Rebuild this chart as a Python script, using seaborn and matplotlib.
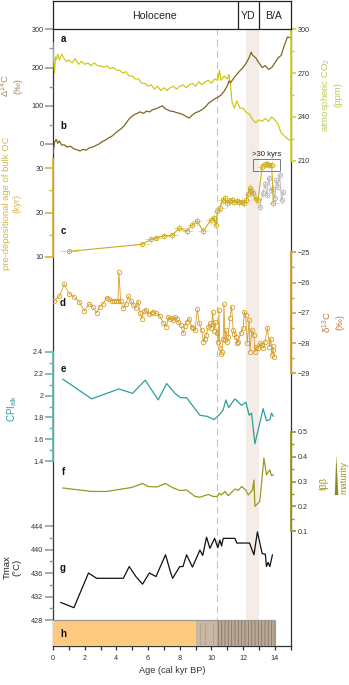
import matplotlib
matplotlib.use("Agg")
import matplotlib.pyplot as plt
import seaborn as sns
from matplotlib.patches import Rectangle, Polygon
from matplotlib.ticker import FixedLocator

# ---------------- data ----------------
# a: atmospheric CO2 (ppm)
co2_age = [0.0, 0.05, 0.1, 0.15, 0.2, 0.3, 0.4, 0.55, 0.7, 0.85, 1.0, 1.2, 1.4, 1.6, 1.8,
           2.0, 2.2, 2.4, 2.6, 2.8, 3.0, 3.2, 3.4, 3.6, 3.8, 4.0, 4.2, 4.4, 4.6, 4.8,
           5.0, 5.2, 5.4, 5.6, 5.8, 6.0, 6.2, 6.4, 6.6, 6.8, 7.0, 7.2, 7.4, 7.6, 7.8,
           8.0, 8.2, 8.4, 8.6, 8.8, 9.0, 9.2, 9.4, 9.6, 9.8, 10.0, 10.2, 10.4, 10.5, 10.6,
           10.8, 11.0, 11.1, 11.2, 11.3, 11.45, 11.6, 11.8, 12.0, 12.2, 12.4, 12.6, 12.8, 13.0,
           13.2, 13.4, 13.6, 13.8, 14.0, 14.2, 14.4, 14.6, 14.8, 14.95]
co2_ppm = [291, 276, 270, 281, 279, 283, 279, 283, 280, 278, 279, 277, 280, 276, 278,
           276, 277, 275, 277, 275, 275, 274, 275, 273, 274, 272, 272, 270, 271, 268,
           268, 266, 266, 263, 263, 261, 262, 259, 261, 258, 260, 258, 260, 261, 259,
           261, 262, 260, 262, 263, 261, 264, 262, 264, 265, 263, 266, 265, 272, 265,
           268, 266, 269, 262, 250, 246, 251, 246, 246, 243, 242, 238, 236, 238,
           237, 239, 237, 240, 238, 235, 229, 227, 225, 224]

# b: atmospheric D14C (permil)
d14_age = [0.0, 0.1, 0.2, 0.3, 0.4, 0.55, 0.7, 0.9, 1.1, 1.3, 1.5, 1.7, 1.9, 2.1, 2.3,
           2.5, 2.7, 2.9, 3.1, 3.3, 3.5, 3.7, 3.9, 4.1, 4.3, 4.5, 4.7, 4.9, 5.1, 5.3,
           5.5, 5.7, 5.9, 6.1, 6.3, 6.5, 6.7, 6.9, 7.0, 7.2, 7.4, 7.6, 7.8, 8.0, 8.2,
           8.4, 8.6, 8.8, 9.0, 9.2, 9.4, 9.6, 9.8, 10.0, 10.2, 10.4, 10.6, 10.8, 11.0,
           11.1, 11.2, 11.4, 11.6, 11.8, 12.0, 12.2, 12.4, 12.5, 12.6, 12.8, 13.0, 13.2,
           13.4, 13.6, 13.8, 14.0, 14.2, 14.4, 14.6, 14.8, 14.95]
d14_val = [-25, 5, 12, 2, 8, -3, -2, -8, -6, -12, -15, -18, -14, -16, -10,
           -8, -4, 0, 6, 10, 16, 20, 27, 34, 40, 48, 60, 70, 76, 80,
           84, 80, 86, 84, 90, 92, 96, 100, 95, 90, 86, 85, 82, 80, 77,
           72, 68, 76, 82, 85, 90, 96, 106, 112, 118, 122, 128, 138, 152,
           165, 160, 172, 182, 192, 200, 212, 228, 240, 232, 225, 212, 200,
           205, 195, 200, 212, 225, 232, 258, 280, 278]

# c: pre-depositional age of bulk OC (kyr)
c_age = [1.0, 5.6, 6.2, 6.5, 7.0, 7.5, 7.95, 8.45, 8.75, 9.1, 9.48, 9.94, 10.17, 10.28,
         10.38, 10.55, 10.7, 10.85, 11.0, 11.15, 11.3, 11.45, 11.6, 11.75, 11.9, 12.05,
         12.2, 12.3, 12.42, 12.52, 12.62, 12.8, 12.94, 13.2, 13.35, 13.5, 13.65, 13.8, 13.9]
c_pre = [11.2, 12.8, 13.9, 14.3, 14.7, 14.8, 16.4, 15.8, 17.1, 18.0, 15.8, 18.2, 18.8, 17.1,
         20.3, 21.1, 22.8, 23.2, 22.1, 22.6, 22.8, 22.4, 22.6, 22.3, 22.4, 22.1,
         22.8, 24.2, 25.5, 24.8, 24.4, 23.0, 22.8, 30.4, 30.9, 31.0, 30.7, 30.8, 22.2]
c_xerr = [0.6, 0.5, 0.4, 0.4, 0.4, 0.4, 0.4, 0.4, 0.3, 0.3, 0.3, 0.3, 0.2, 0.2,
          0.3, 0.3, 0.3, 0.3, 0.3, 0.3, 0.3, 0.3, 0.3, 0.3, 0.3, 0.3,
          0.3, 0.2, 0.2, 0.2, 0.2, 0.2, 0.2, 0.3, 0.3, 0.3, 0.3, 0.3, 0.3]
c_yerr = [0.5, 0.6, 0.7, 0.7, 0.7, 0.8, 0.9, 0.9, 0.9, 1.0, 0.9, 1.0, 1.0, 0.9,
          1.0, 1.0, 1.0, 1.0, 1.0, 1.0, 1.0, 1.0, 1.0, 1.0, 1.0, 1.0,
          1.0, 1.2, 1.2, 1.2, 1.2, 1.1, 1.1, 0.8, 0.8, 0.8, 0.8, 0.8, 0.9]
# c (grey, excluded samples)
cg_age = [13.04, 13.25, 13.39, 13.5, 13.6, 13.75, 13.88, 14.0, 14.09, 14.2, 14.3, 14.42, 14.51]
cg_pre = [21.3, 24.3, 26.5, 24.0, 27.7, 25.0, 25.4, 23.2, 27.3, 25.8, 28.5, 22.8, 24.7]

# d: d13C of bulk OC (permil)
d_age = [0.06, 0.4, 0.71, 1.03, 1.32, 1.64, 1.98, 2.3, 2.5, 2.75,
         2.96, 3.17, 3.38, 3.55, 3.7, 3.85, 4.0, 4.1, 4.16, 4.27,
         4.44, 4.6, 4.75, 4.9, 5.07, 5.22, 5.38, 5.5, 5.59, 5.75,
         5.9, 6.05, 6.22, 6.32, 6.53, 6.74, 6.95, 7.16, 7.27, 7.38,
         7.48, 7.6, 7.69, 7.8, 7.9, 8.05, 8.22, 8.32, 8.43, 8.6,
         8.75, 8.86, 8.96, 9.11, 9.23, 9.38, 9.49, 9.58, 9.66, 9.8,
         9.91, 10.0, 10.08, 10.15, 10.22, 10.33, 10.43, 10.47, 10.53, 10.6,
         10.64, 10.74, 10.79, 10.85, 10.91, 11.0, 11.06, 11.16, 11.27, 11.37,
         11.45, 11.54, 11.62, 11.69, 11.84, 12.0, 12.07, 12.15, 12.26, 12.37,
         12.43, 12.54, 12.68, 12.75, 12.81, 12.96, 13.07, 13.17, 13.28, 13.38,
         13.53, 13.66, 13.74, 13.81, 13.86, 13.91, 13.95]
d_13c = [-26.6, -26.45, -26.06, -26.38, -26.47, -26.63, -26.94, -26.7, -26.8, -27.0,
         -26.8, -26.7, -26.5, -26.55, -26.6, -26.6, -26.6, -26.6, -25.66, -26.6,
         -26.85, -26.7, -26.45, -26.6, -26.75, -26.85, -26.63, -27.0, -27.19, -26.95,
         -26.91, -27.05, -27.0, -26.97, -27.02, -27.1, -27.33, -27.46, -27.13, -27.2,
         -27.16, -27.25, -27.13, -27.22, -27.3, -27.4, -27.68, -27.45, -27.3, -27.2,
         -27.46, -27.5, -27.57, -26.89, -27.35, -27.57, -27.96, -27.85, -27.74, -27.46,
         -27.35, -27.5, -26.99, -27.6, -27.3, -27.68, -27.96, -26.9, -28.18, -28.35,
         -28.29, -27.85, -26.71, -27.9, -27.57, -27.95, -27.79, -27.18, -26.8, -27.57,
         -27.7, -27.79, -28.0, -27.96, -27.68, -27.51, -26.96, -27.07, -28.0, -27.24,
         -28.29, -27.57, -27.74, -28.3, -28.12, -28.18, -28.0, -28.07, -28.15, -27.96,
         -27.49, -28.12, -27.85, -28.4, -28.1, -28.24, -28.46]

# e: CPI alk
e_age = [0.61, 2.44, 4.16, 5.02, 5.82, 6.64, 7.17, 7.7, 8.05, 8.43, 9.27, 9.73, 10.17,
         10.53, 10.74, 10.91, 11.08, 11.48, 11.9, 12.17, 12.38, 12.53, 12.74, 13.26,
         13.47, 13.68, 13.79, 13.9]
e_cpi = [2.15, 1.97, 2.06, 2.02, 2.14, 1.96, 2.11, 2.02, 1.98, 1.98, 1.82, 1.81, 1.78,
         1.83, 1.87, 1.96, 1.89, 1.97, 1.91, 1.94, 1.82, 1.84, 1.56, 1.88,
         1.77, 1.78, 1.84, 1.81]

# f: f-beta-beta
f_age = [0.61, 2.44, 3.38, 4.96, 5.65, 6.0, 6.54, 7.1, 7.59, 8.0, 8.43, 8.96, 9.27,
         9.8, 10.1, 10.36, 10.49, 10.64, 10.85, 11.06, 11.48, 11.69, 11.9, 12.17,
         12.32, 12.59, 12.68, 12.74, 13.05, 13.31, 13.47, 13.68, 13.79, 13.9]
f_fbb = [0.274, 0.26, 0.26, 0.276, 0.292, 0.28, 0.278, 0.292, 0.274, 0.264, 0.266, 0.24, 0.237,
         0.248, 0.24, 0.24, 0.253, 0.246, 0.26, 0.243, 0.27, 0.264, 0.28, 0.266,
         0.246, 0.266, 0.306, 0.2, 0.22, 0.394, 0.327, 0.347, 0.323, 0.327]

# g: Tmax (degC)
g_age = [0.48, 1.32, 2.24, 2.75, 4.44, 4.81, 5.23, 5.65, 6.08, 6.5, 7.1, 7.42, 7.55, 8.0,
         8.2, 8.43, 8.8, 9.27, 9.45, 9.69, 9.9, 10.2, 10.4, 10.53, 10.64, 10.74, 11.48,
         11.6, 12.4, 12.68, 12.9, 13.2, 13.4, 13.47, 13.58, 13.68, 13.85]
g_tmax = [431.0, 430.1, 436.0, 435.1, 435.1, 437.1, 435.4, 434.1, 436.0, 435.4, 439.1, 436.1,
          435.1, 437.1, 437.1, 439.1, 437.0, 439.9, 439.0, 442.1, 440.2, 441.9, 440.3, 441.6,
          440.6, 441.9, 441.9, 441.1, 441.1, 439.1, 443.0, 439.3, 439.2, 437.1, 437.8, 437.1,
          439.1]

# h: lithology / depositional units
h_start = [0.0, 9.0, 10.35]
h_end = [9.0, 10.35, 14.0]
h_dots = [9.25, 9.6, 10.1]

# chronozones
zone_names = ["Holocene", "YD", "B/A"]
zone_edges = [0.0, 11.65, 12.99, 15.0]
yd_span = (12.15, 12.99)
dashed_age = 10.35

# ---------------- style ----------------
C_CO2, C_CO2_LAB = "#c9c500", "#bccb55"
C_D14, C_D14_LAB = "#7f6622", "#a8875c"
C_AGE, C_AGE_LAB, C_AGE_ERR = "#cdab1c", "#d4b54a", "#e6d27e"
C_GREY = "#b8b8b8"
C_D13, C_D13_LAB = "#d69e2c", "#c4773a"
C_CPI = "#2e9e9b"
C_FBB = "#9a9822"
C_TICKGREY = "#999999"

W, H = 349, 685
TOP, BOT, LEFT, RIGHT = 29.3, 646.0, 53.0, 290.7


def fx(px):
    return px / W


def fy(py):
    return 1 - py / H


sns.set_theme(style="ticks")
plt.rcParams["font.family"] = ["Liberation Sans", "DejaVu Sans"]
plt.rcParams["mathtext.fontset"] = "custom"
plt.rcParams["mathtext.rm"] = "Liberation Sans"
plt.rcParams["mathtext.it"] = "Liberation Sans:italic"
plt.rcParams["mathtext.bf"] = "Liberation Sans:bold"
plt.rcParams["hatch.linewidth"] = 0.6
plt.rcParams["hatch.color"] = "#857565"

fig = plt.figure(figsize=(W / 100, H / 100), dpi=100)
rect = [fx(LEFT), fy(BOT), fx(RIGHT) - fx(LEFT), fy(TOP) - fy(BOT)]

# frame axis: x axis, YD shading, dashed line
base = fig.add_axes(rect)
base.set_xlim(0, 15)
base.set_ylim(0, 1)
base.set_yticks([])
base.spines["top"].set_visible(False)
for s in ["left", "right", "bottom"]:
    base.spines[s].set_color("#333333")
    base.spines[s].set_linewidth(0.9)
base.set_xticks(range(0, 15, 2))
base.xaxis.set_minor_locator(FixedLocator(range(1, 16, 2)))
base.tick_params(axis="x", which="both", length=3.2, width=0.9, color="#333333",
                 labelsize=5.2, labelcolor="#333333", pad=3)
base.set_xlabel("Age (cal kyr BP)", fontsize=6.6, color="#333333", labelpad=3)
base.axvspan(*yd_span, color="#f3ece7", lw=0, zorder=0)
base.axvline(dashed_age, color="#c4c4c4", lw=0.8, ls=(0, (6, 4)), zorder=0)


def panel(v1, p1, v2, p2, side, bounds, color, major, minor, tickcolor,
          majlen, minlen, ticklabels=None):
    ax = fig.add_axes(rect, facecolor="none")
    ax.set_xlim(0, 15)
    slope = (v1 - v2) / (p1 - p2)
    ax.set_ylim(v1 + (BOT - p1) * slope, v1 + (TOP - p1) * slope)
    for s in ax.spines.values():
        s.set_visible(False)
    ax.set_xticks([])
    ax.grid(False)
    if bounds is not None:
        sp = ax.spines[side]
        sp.set_visible(True)
        sp.set_bounds(*bounds)
        sp.set_color(color)
        sp.set_linewidth(1.3)
    if side == "right":
        ax.yaxis.tick_right()
    else:
        ax.yaxis.tick_left()
    ax.set_yticks(major)
    if ticklabels is not None:
        ax.set_yticklabels(ticklabels)
    ax.yaxis.set_minor_locator(FixedLocator(minor))
    ax.tick_params(axis="y", which="major", length=majlen, width=1.2, color=tickcolor,
                   labelsize=5.2, labelcolor="#333333", pad=1.5)
    ax.tick_params(axis="y", which="minor", length=minlen, width=1.0, color=tickcolor)
    return ax


# a: CO2 (right)
ax_co2 = panel(300, 29.3, 210, 160.7, "right", (210, 300), "#d8d21c",
               [210, 240, 270, 300], [225, 255, 285], "#d8d21c", 3.6, 2.2)
sns.lineplot(x=co2_age, y=co2_ppm, ax=ax_co2, color=C_CO2, lw=0.8, sort=False, estimator=None)

# b: D14C (left)
ax_d14 = panel(300, 29.3, 0, 144, "left", None, None,
               [0, 100, 200, 300], [50, 150, 250], C_TICKGREY, 5.5, 3)
sns.lineplot(x=d14_age, y=d14_val, ax=ax_d14, color=C_D14, lw=0.9, sort=False, estimator=None)

# c: pre-depositional age (left)
ax_age = panel(30, 168.3, 10, 256.7, "left", (10, 32), "#d6b52a",
               [10, 20, 30], [15, 25], "#d6b52a", 5.5, 3)
ax_age.errorbar(cg_age, cg_pre, xerr=0.15, yerr=0.8, fmt="none", ecolor="#cfcfcf", elinewidth=0.6)
sns.lineplot(x=cg_age, y=cg_pre, ax=ax_age, color=C_GREY, lw=0.6, sort=False, estimator=None,
             marker="o", markersize=3.2, markerfacecolor="none", markeredgecolor=C_GREY,
             markeredgewidth=0.6)
ax_age.errorbar(c_age, c_pre, xerr=c_xerr, yerr=c_yerr, fmt="none", ecolor=C_AGE_ERR, elinewidth=0.6)
sns.lineplot(x=c_age, y=c_pre, ax=ax_age, color=C_AGE, lw=0.8, sort=False, estimator=None,
             marker="o", markersize=3.2, markerfacecolor="none", markeredgecolor=C_AGE,
             markeredgewidth=0.6)
ax_age.add_patch(Rectangle((12.63, 29.5), 1.68, 2.5, fill=False, ec="#666666", lw=0.6))
ax_age.text(13.47, 32.4, ">30 kyrs", fontsize=5.6, ha="center", va="bottom", color="#222222")

# d: d13C (right)
ax_d13 = panel(-25, 252.3, -29, 373.3, "right", (-29, -25), C_D13,
               [-29, -28, -27, -26, -25], [-28.5, -27.5, -26.5, -25.5], C_D13, 3.6, 2.2)
sns.lineplot(x=d_age, y=d_13c, ax=ax_d13, color=C_D13, lw=0.6, sort=False, estimator=None,
             marker="o", markersize=3.2, markerfacecolor="none", markeredgecolor=C_D13,
             markeredgewidth=0.6)

# e: CPI (left)
ax_cpi = panel(2.4, 351.7, 1.4, 461.3, "left", (1.4, 2.4), "#5fb8b5",
               [1.4, 1.6, 1.8, 2.0, 2.2, 2.4], [1.5, 1.7, 1.9, 2.1, 2.3], "#5fb8b5", 5.5, 3,
               ["1.4", "1.6", "1.8", "2", "2.2", "2.4"])
sns.lineplot(x=e_age, y=e_cpi, ax=ax_cpi, color=C_CPI, lw=0.9, sort=False, estimator=None)

# f: fbb (right)
ax_fbb = panel(0.5, 431.7, 0.1, 531.3, "right", (0.1, 0.5), C_FBB,
               [0.1, 0.2, 0.3, 0.4, 0.5], [0.15, 0.25, 0.35, 0.45], C_FBB, 3.6, 2.2)
sns.lineplot(x=f_age, y=f_fbb, ax=ax_fbb, color=C_FBB, lw=0.9, sort=False, estimator=None)

# g: Tmax (left) + h bar
ax_tmx = panel(444, 526, 428, 620, "left", None, None,
               [428, 432, 436, 440, 444], [430, 434, 438, 442], C_TICKGREY, 5.5, 3)
sns.lineplot(x=g_age, y=g_tmax, ax=ax_tmx, color="#111111", lw=0.9, sort=False, estimator=None)

h_colors = ["#fdca7f", "#c9b7a3", "#b9a996"]
h_hatch = [None, None, "|||||"]
for s0, s1, col, hat in zip(h_start, h_end, h_colors, h_hatch):
    ax_tmx.barh(418.0, s1 - s0, left=s0, height=10, align="edge", color=col,
                hatch=hat, edgecolor="#857565" if hat else col, lw=0, zorder=3)
ax_tmx.hlines(428, h_start[0], h_end[-1], color="#9a9a9a", lw=0.9, zorder=4)
ax_tmx.vlines(h_dots, 424.0, 427.5, color="#8a7a6a", lw=0.6, ls=":", zorder=4)
ax_tmx.vlines(h_end[-1], 418, 428, color="#9a9a9a", lw=0.8, zorder=4)

# header with chronozones
hdr = fig.add_axes([fx(LEFT), fy(TOP), fx(RIGHT) - fx(LEFT), fy(0.5) - fy(TOP)])
hdr.set_xlim(0, 15)
hdr.set_ylim(0, 1)
hdr.set_xticks([])
hdr.set_yticks([])
for s in hdr.spines.values():
    s.set_color("#222222")
    s.set_linewidth(0.9)
for e in zone_edges[1:-1]:
    hdr.axvline(e, color="#222222", lw=0.9)
zone_centres = [6.37, 12.32, 13.95]
for name, xc in zip(zone_names, zone_centres):
    hdr.text(xc, 0.47, name, ha="center", va="center", fontsize=7.6, color="#222222")

# panel letters
for letter, py in zip("abcdefgh", [39, 126, 231, 303, 369, 472, 568, 634]):
    fig.text(fx(63), fy(py), letter, fontsize=7, fontweight="bold", ha="center", va="center",
             color="#111111")

# axis titles
fig.text(fx(11), fy(86), "Δ$^{14}$C\n(‰)", rotation=90, fontsize=6.8, color=C_D14_LAB,
         ha="center", va="center", multialignment="center")
fig.text(fx(12), fy(203), "pre-depositional age of bulk OC\n(kyr)", rotation=90, fontsize=6.8,
         color=C_AGE_LAB, ha="center", va="center", multialignment="center")
fig.text(fx(12.5), fy(408), "CPI$_{\\mathrm{alk}}$", rotation=90, fontsize=7, color=C_CPI,
         ha="center", va="center")
fig.text(fx(12), fy(567), "Tmax\n(°C)", rotation=90, fontsize=6.8, color="#222222",
         ha="center", va="center", multialignment="center")
fig.text(fx(331), fy(95), "atmospheric CO$_2$\n(ppm)", rotation=90, fontsize=6.8,
         color=C_CO2_LAB, ha="center", va="center", multialignment="center")
fig.text(fx(333), fy(322), "δ$^{13}$C\n(‰)", rotation=90, fontsize=6.8, color=C_D13_LAB,
         ha="center", va="center", multialignment="center")
fig.text(fx(324), fy(483), "fββ", rotation=90, fontsize=6.6, color=C_FBB, ha="center", va="center")
fig.text(fx(344), fy(477), "maturity", rotation=90, fontsize=6.6, color=C_FBB,
         ha="center", va="center")
fig.add_artist(Polygon([[fx(336.3), fy(455)], [fx(334.8), fy(495)], [fx(338.3), fy(495)]],
                       closed=True, transform=fig.transFigure, color="#8a8a1e", lw=0))

fig.savefig("out.png", dpi=100)
